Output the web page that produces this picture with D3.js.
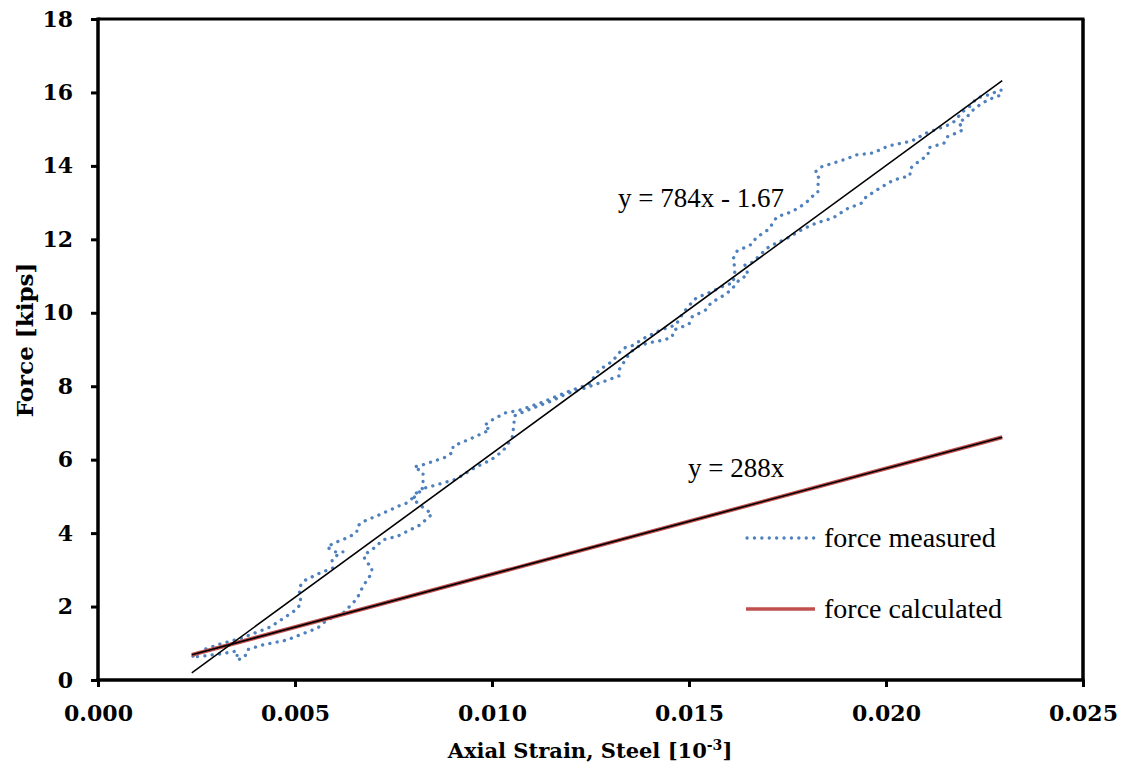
<!DOCTYPE html>
<html><head><meta charset="utf-8">
<script src="https://cdn.jsdelivr.net/npm/d3@7"></script>
<style>body{margin:0;background:#fff}</style>
</head><body><svg id="c" width="1123" height="769"></svg>
<script>
// Measured force: loading (upper) branch
const upStrain=[0.00241,0.00272,0.00310,0.00365,0.00398,0.00437,0.00472,0.00505,0.00515,0.00510,0.00523,0.00558,0.00596,0.00594,0.00607,0.00622,0.00602,0.00581,0.00599,0.00637,0.00657,0.00657,0.00670,0.00708,0.00764,0.00784,0.00799,0.00810,0.00825,0.00825,0.00825,0.00802,0.00825,0.00883,0.00901,0.00901,0.00939,0.00995,0.00980,0.00995,0.01033,0.01071,0.01129,0.01185,0.01246,0.01272,0.01307,0.01320,0.01335,0.01355,0.01391,0.01429,0.01467,0.01477,0.01497,0.01518,0.01556,0.01594,0.01612,0.01617,0.01612,0.01622,0.01660,0.01670,0.01703,0.01713,0.01723,0.01761,0.01797,0.01810,0.01827,0.01827,0.01830,0.01820,0.01835,0.01891,0.01926,0.01967,0.02005,0.02066,0.02104,0.02165,0.02178,0.02190,0.02211,0.02231,0.02259,0.02292];
const upForce=[0.65,0.84,0.98,1.14,1.28,1.44,1.69,1.93,2.10,2.51,2.70,2.89,3.05,3.27,3.40,3.49,3.49,3.62,3.73,3.89,4.03,4.17,4.30,4.47,4.74,4.82,4.96,5.12,5.23,5.50,5.66,5.80,5.86,6.07,6.21,6.37,6.54,6.81,6.92,7.05,7.27,7.35,7.57,7.82,8.06,8.44,8.69,8.88,9.04,9.10,9.34,9.53,9.67,9.86,10.16,10.40,10.57,10.76,10.81,11.17,11.47,11.68,11.87,12.04,12.28,12.45,12.61,12.75,12.99,13.15,13.26,13.45,13.67,13.83,13.97,14.16,14.30,14.35,14.54,14.68,14.90,15.14,15.25,15.44,15.60,15.85,15.93,16.07];
// Measured force: unloading (lower) branch
const downStrain=[0.02292,0.02259,0.02226,0.02201,0.02185,0.02195,0.02173,0.02155,0.02147,0.02107,0.02107,0.02074,0.02061,0.02061,0.02020,0.01985,0.01949,0.01939,0.01901,0.01865,0.01825,0.01789,0.01751,0.01713,0.01698,0.01662,0.01642,0.01650,0.01629,0.01607,0.01589,0.01556,0.01543,0.01508,0.01500,0.01462,0.01457,0.01437,0.01396,0.01368,0.01350,0.01322,0.01322,0.01287,0.01228,0.01188,0.01152,0.01091,0.01056,0.01056,0.01051,0.01028,0.00997,0.00959,0.00909,0.00868,0.00830,0.00812,0.00799,0.00827,0.00848,0.00817,0.00761,0.00721,0.00708,0.00675,0.00678,0.00695,0.00695,0.00673,0.00657,0.00642,0.00622,0.00581,0.00558,0.00518,0.00480,0.00416,0.00378,0.00373,0.00353,0.00353,0.00310,0.00266,0.00241];
const downForce=[15.93,15.80,15.58,15.28,15.20,14.98,14.87,14.79,14.62,14.49,14.30,14.05,13.92,13.73,13.62,13.40,13.15,12.99,12.83,12.58,12.45,12.28,12.04,11.85,11.76,11.38,11.30,11.03,10.92,10.62,10.48,10.27,10.08,9.89,9.69,9.53,9.34,9.26,9.18,9.07,8.91,8.44,8.28,8.14,7.92,7.79,7.60,7.35,7.19,6.97,6.59,6.24,5.99,5.80,5.47,5.34,5.23,5.09,4.93,4.68,4.52,4.22,3.92,3.81,3.65,3.40,3.24,3.08,2.91,2.56,2.21,2.04,1.82,1.63,1.42,1.25,1.09,0.95,0.82,0.63,0.54,0.79,0.71,0.65,0.63];
// Calculated force
const calcStrain=[0.00238,0.02295];
const calcForce=[0.685,6.61];
// Trendlines (coefficients shown on chart)
const trendMeasuredCoef=[784,-1.67];
const trendCalcCoef=[288,0];
const trendRange=[0.00238,0.02295];
const xTicks=[0,0.005,0.010,0.015,0.020,0.025];
const yTicks=[0,2,4,6,8,10,12,14,16,18];
const eqMeasured="y = 784x - 1.67";
const eqCalc="y = 288x";
const legendLabels=["force measured","force calculated"];

const svg=d3.select("#c");
const x=d3.scaleLinear().domain([0,0.025]).range([98,1083]);
const y=d3.scaleLinear().domain([0,18]).range([680,19]);
const BLUE="#4f81bd", RED="#c0504d";
const bold="'DejaVu Serif', serif";
const reg="'Liberation Serif', serif";

// frame top/right
svg.append("line").attr("x1",x(0)).attr("x2",x(0.025)+1.5).attr("y1",y(18)).attr("y2",y(18)).attr("stroke","#000").attr("stroke-width",3);
svg.append("line").attr("x1",x(0.025)).attr("x2",x(0.025)).attr("y1",y(18)).attr("y2",y(0)).attr("stroke","#000").attr("stroke-width",3.5);

// axes
const gx=svg.append("g").attr("transform",`translate(0,${y(0)})`)
  .call(d3.axisBottom(x).tickValues(xTicks).tickSize(7).tickPadding(18).tickFormat(d3.format(".3f")));
const gy=svg.append("g").attr("transform",`translate(${x(0)},0)`)
  .call(d3.axisLeft(y).tickValues(yTicks).tickSize(7).tickPadding(18).tickFormat(d3.format("d")));
[gx,gy].forEach(g=>{
  g.select(".domain").attr("stroke","#000").attr("stroke-width",3.5);
  g.selectAll(".tick line").attr("stroke","#000").attr("stroke-width",3);
  g.selectAll(".tick text").attr("fill","#000").style("font-family",bold).style("font-weight","bold").style("font-size","22px");
});
gx.select(".domain").attr("d",`M${x(0)-1.5},0H${x(0.025)+1.5}`);
gy.select(".domain").attr("d",`M0,${y(18)-1.5}V${y(0)}`);

// measured series dotted
const line=d3.line().x(d=>x(d[0])).y(d=>y(d[1]));
const measured=upStrain.map((s,i)=>[s,upForce[i]]).concat(downStrain.map((s,i)=>[s,downForce[i]]));
svg.append("path").attr("d",line(measured)).attr("fill","none").attr("stroke",BLUE)
  .attr("stroke-width",3.3).attr("stroke-linecap","round").attr("stroke-dasharray","0.1 7.3");

// calculated series
svg.append("path").attr("d",line(calcStrain.map((s,i)=>[s,calcForce[i]]))).attr("fill","none").attr("stroke",RED).attr("stroke-width",4);

// trendlines
const trendPts=c=>trendRange.map(s=>[s,c[0]*s+c[1]]);
svg.append("path").attr("d",line(trendPts(trendMeasuredCoef))).attr("fill","none").attr("stroke","#000").attr("stroke-width",1.6);
svg.append("path").attr("d",line(trendPts(trendCalcCoef))).attr("fill","none").attr("stroke","#000").attr("stroke-width",1.6);

// equations
svg.append("text").attr("x",618).attr("y",207).text(eqMeasured).style("font-family",reg).style("font-size","27px");
svg.append("text").attr("x",688).attr("y",477).text(eqCalc).style("font-family",reg).style("font-size","27px");

// legend
svg.append("line").attr("x1",747).attr("x2",814).attr("y1",538).attr("y2",538).attr("stroke",BLUE)
  .attr("stroke-width",3.3).attr("stroke-linecap","round").attr("stroke-dasharray","0.1 7.3");
svg.append("text").attr("x",824).attr("y",547).text(legendLabels[0]).style("font-family",reg).style("font-size","28px");
svg.append("line").attr("x1",746).attr("x2",815).attr("y1",609).attr("y2",609).attr("stroke",RED).attr("stroke-width",3.6);
svg.append("text").attr("x",824).attr("y",618).text(legendLabels[1]).style("font-family",reg).style("font-size","28px");

// axis titles
const xt=svg.append("text").attr("x",590).attr("y",758).attr("text-anchor","middle")
  .style("font-family",bold).style("font-weight","bold").style("font-size","21px");
xt.append("tspan").text("Axial Strain, Steel [10");
xt.append("tspan").text("-3").attr("dy",-8).style("font-size","14px");
xt.append("tspan").text("]").attr("dy",8);
svg.append("text").attr("transform","translate(33,340) rotate(-90)").attr("text-anchor","middle")
  .style("font-family",bold).style("font-weight","bold").style("font-size","23px").text("Force [kips]");
</script></body></html>
